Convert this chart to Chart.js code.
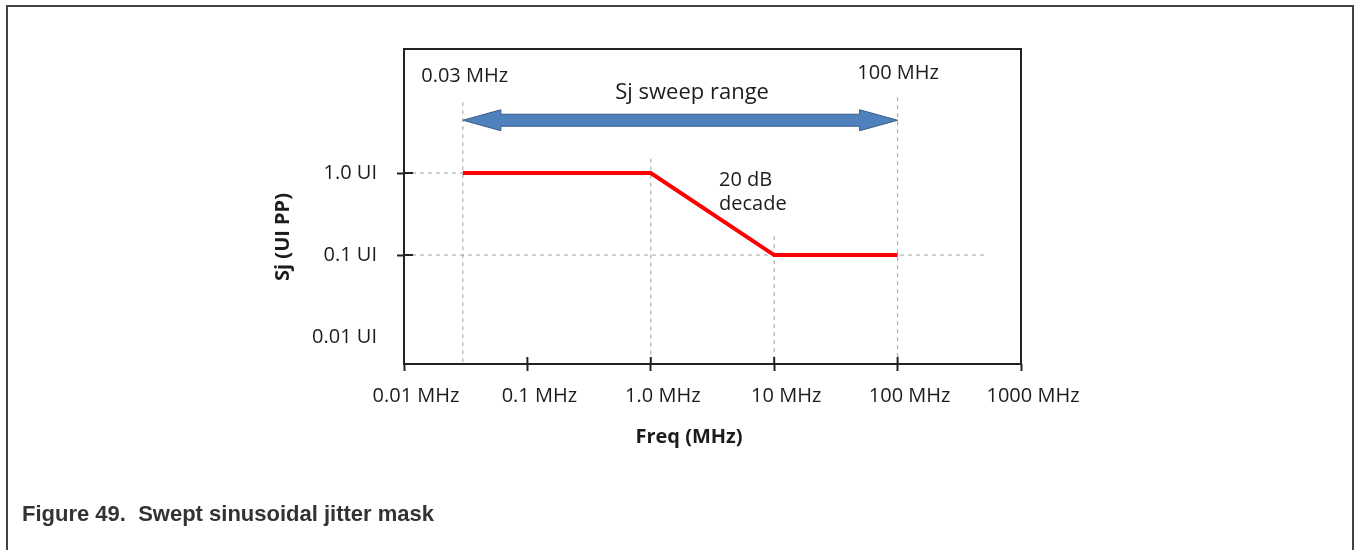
<!DOCTYPE html>
<html>
<head>
<meta charset="utf-8">
<script src="https://cdn.jsdelivr.net/npm/chart.js@4.4.1/dist/chart.umd.min.js"></script>
<style>
  html, body { margin: 0; padding: 0; background: #fff; }
  body { width: 1354px; height: 550px; position: relative; overflow: hidden; }
  .frame { position: absolute; left: 6px; top: 5px; width: 1344px; height: 600px; border: 2px solid #444; border-bottom: none; }
  #chart { position: absolute; left: 0; top: 0; }
  .caption { position: absolute; left: 22px; top: 501px; line-height: 24px; font: bold 22px "Liberation Sans", Arial, sans-serif; color: #333; white-space: pre; }
</style>
</head>
<body>
<div class="frame"></div>
<canvas id="chart" width="1354" height="550"></canvas>
<div class="caption">Figure 49.  Swept sinusoidal jitter mask</div>
<script>
// ---- data (frequency in MHz, jitter in UI pp) ----
const freqTicks = [0.01, 0.1, 1, 10, 100, 1000];
const freqTickLabels = ['0.01 MHz', '0.1 MHz', '1.0 MHz', '10 MHz', '100 MHz', '1000 MHz'];
const sjTicks = [0.01, 0.1, 1];
const sjTickLabels = ['0.01 UI', '0.1 UI', '1.0 UI'];

const maskFreq = [0.03, 1, 10, 100];
const maskSj = [1, 1, 0.1, 0.1];

// dashed guide lines
const guideFreq = [0.03, 1, 10, 100];
const guideTop = [7.3, 1.5, 0.17, 8.4];
const hGuideSj = [1, 0.1];
const hGuideEnd = [0.03, 540];

const sweepRange = [0.03, 100];
const sweepLevel = 4.4;

const X_MIN = 0.01, X_MAX = 1000;
const Y_MIN = 0.0047, Y_MAX = 32.5;

const FONT = '"Open Sans", "Liberation Sans", sans-serif';
const TEXT = '#1c1c1c';
const GUIDE = '#a0a0a0';

// text placed in data space
const notes = [
  { text: '0.03 MHz', x: 0.031, y: 15.2, size: 20, align: 'center' },
  { text: '100 MHz', x: 101, y: 16.6, size: 20, align: 'center' },
  { text: 'Sj sweep range', x: 2.16, y: 9.45, size: 22, align: 'center' },
  { text: '20 dB', x: 3.57, y: 0.82, size: 20, align: 'left' },
  { text: 'decade', x: 3.57, y: 0.41, size: 20, align: 'left' }
];

const datasets = [{
  label: 'Sj mask',
  data: maskFreq.map((f, i) => ({ x: f, y: maskSj[i] })),
  borderColor: '#ff0000',
  borderWidth: 4,
  pointRadius: 0
}];

guideFreq.forEach((f, i) => {
  datasets.push({
    data: [{ x: f, y: guideTop[i] }, { x: f, y: Y_MIN }],
    borderColor: GUIDE, borderWidth: 1, borderDash: [4, 4], pointRadius: 0
  });
});
hGuideSj.forEach((v, i) => {
  datasets.push({
    data: [{ x: X_MIN, y: v }, { x: hGuideEnd[i], y: v }],
    borderColor: GUIDE, borderWidth: 1, borderDash: [4, 4], pointRadius: 0
  });
});

const maskDecor = {
  id: 'maskDecor',
  afterDatasetsDraw(chart) {
    const { ctx, chartArea: a, scales: { x, y } } = chart;
    ctx.save();

    // double-headed sweep arrow
    const x0 = x.getPixelForValue(sweepRange[0]);
    const x1 = x.getPixelForValue(sweepRange[1]);
    const yc = y.getPixelForValue(sweepLevel);
    const head = 38, hh = 10.5, sh = 6;
    ctx.beginPath();
    ctx.moveTo(x0, yc);
    ctx.lineTo(x0 + head, yc - hh);
    ctx.lineTo(x0 + head, yc - sh);
    ctx.lineTo(x1 - head, yc - sh);
    ctx.lineTo(x1 - head, yc - hh);
    ctx.lineTo(x1, yc);
    ctx.lineTo(x1 - head, yc + hh);
    ctx.lineTo(x1 - head, yc + sh);
    ctx.lineTo(x0 + head, yc + sh);
    ctx.lineTo(x0 + head, yc + hh);
    ctx.closePath();
    ctx.fillStyle = '#4f81bd';
    ctx.fill();
    ctx.strokeStyle = '#385d8a';
    ctx.lineWidth = 1;
    ctx.stroke();

    // plot box
    ctx.strokeStyle = '#222';
    ctx.lineWidth = 2;
    ctx.strokeRect(a.left, a.top, a.right - a.left, a.bottom - a.top);

    // inner halves of the tick marks
    ctx.beginPath();
    freqTicks.forEach(v => {
      const px = x.getPixelForValue(v);
      ctx.moveTo(px, a.bottom);
      ctx.lineTo(px, a.bottom - 7);
    });
    sjTicks.filter(v => v !== 0.01).forEach(v => {
      const py = y.getPixelForValue(v);
      ctx.moveTo(a.left, py);
      ctx.lineTo(a.left + 9, py);
    });
    ctx.stroke();

    // notes
    ctx.fillStyle = TEXT;
    ctx.textBaseline = 'middle';
    notes.forEach(n => {
      ctx.font = `${n.size}px ${FONT}`;
      ctx.textAlign = n.align;
      ctx.fillText(n.text, x.getPixelForValue(n.x), y.getPixelForValue(n.y));
    });

    // axis titles
    ctx.font = `bold 20px ${FONT}`;
    ctx.textAlign = 'center';
    ctx.fillText('Freq (MHz)', a.left + 285, a.bottom + 73);
    ctx.translate(a.left - 121, a.top + 188);
    ctx.rotate(-Math.PI / 2);
    ctx.fillText('Sj (UI PP)', 0, 0);

    ctx.restore();
  }
};

new Chart(document.getElementById('chart'), {
  type: 'line',
  data: { datasets },
  plugins: [maskDecor],
  options: {
    responsive: false,
    animation: false,
    events: [],
    layout: { padding: { left: 274, right: 333, top: 49, bottom: 126 } },
    plugins: { legend: { display: false }, tooltip: { enabled: false } },
    scales: {
      x: {
        type: 'logarithmic',
        min: X_MIN,
        max: X_MAX,
        afterBuildTicks: s => { s.ticks = freqTicks.map(v => ({ value: v })); },
        afterFit: s => { s.height = 60; },
        border: { display: false },
        grid: { drawOnChartArea: false, tickLength: 7, tickColor: '#222', tickWidth: 2 },
        ticks: {
          autoSkip: false, maxRotation: 0, minRotation: 0,
          padding: 13, labelOffset: 12,
          color: TEXT, font: { family: FONT, size: 20 },
          callback: (v, i) => freqTickLabels[i]
        }
      },
      y: {
        type: 'logarithmic',
        min: Y_MIN,
        max: Y_MAX,
        afterBuildTicks: s => { s.ticks = sjTicks.map(v => ({ value: v })); },
        afterFit: s => { s.width = 130; },
        border: { display: false },
        grid: {
          drawOnChartArea: false, tickLength: 7, tickWidth: 2,
          tickColor: c => (c.tick && c.tick.value === 0.01) ? 'rgba(0,0,0,0)' : '#222'
        },
        ticks: {
          padding: 20,
          color: TEXT, font: { family: FONT, size: 20 },
          callback: (v, i) => sjTickLabels[i]
        }
      }
    }
  }
});
</script>
</body>
</html>
